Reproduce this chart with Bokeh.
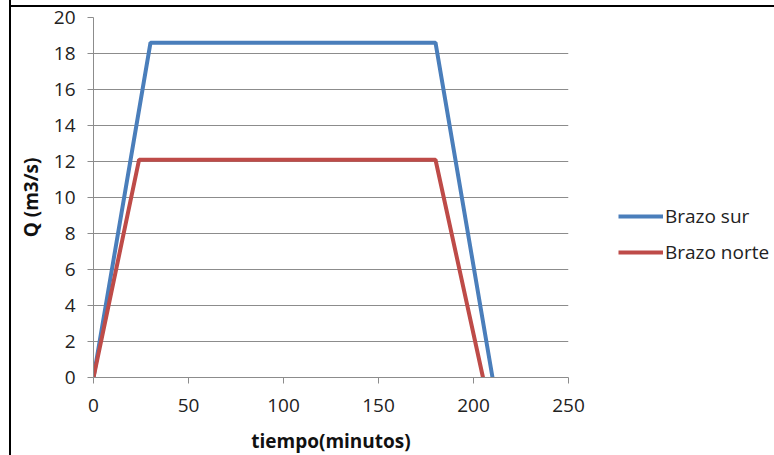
from bokeh.plotting import figure
from bokeh.models import Range1d, Legend, LegendItem, FixedTicker
from bokeh.embed import file_html
from bokeh.resources import INLINE

# data
sur_t = [0, 30, 180, 210]
sur_q = [0, 18.6, 18.6, 0]
norte_t = [0, 24, 180, 205]
norte_q = [0, 12.1, 12.1, 0]
x_ticks = [0, 50, 100, 150, 200, 250]
y_ticks = [0, 2, 4, 6, 8, 10, 12, 14, 16, 18, 20]

FONT = "Open Sans"

p = figure(frame_width=475, frame_height=360, output_backend="svg", toolbar_location=None,
           x_range=Range1d(0, 250), y_range=Range1d(0, 20),
           min_border_left=82, min_border_right=203, min_border_top=17, min_border_bottom=76)
p.margin = (0, 0, 0, 9)
p.styles = {
    "border-left": "2px solid black",
    "background-image": "linear-gradient(black, black)",
    "background-size": "100% 2px",
    "background-position": "0 5px",
    "background-repeat": "no-repeat",
}
p.outline_line_color = None
p.background_fill_color = "white"
p.border_fill_color = None

r1 = p.line(sur_t, sur_q, line_color="#4a7ebb", line_width=4)
r2 = p.line(norte_t, norte_q, line_color="#be4b48", line_width=4)

p.xgrid.grid_line_color = None
p.ygrid.grid_line_color = "#8c8c8c"
p.ygrid.grid_line_width = 1

p.xaxis.ticker = FixedTicker(ticks=x_ticks)
p.yaxis.ticker = FixedTicker(ticks=y_ticks)
for ax in (p.xaxis, p.yaxis):
    ax.axis_line_color = "#8c8c8c"
    ax.major_tick_line_color = "#8c8c8c"
    ax.minor_tick_line_color = None
    ax.major_tick_in = 0
    ax.major_tick_out = 6
    ax.major_label_text_font = FONT
    ax.major_label_text_font_size = "19px"
    ax.major_label_text_color = "#222222"
    ax.axis_label_text_font = FONT
    ax.axis_label_text_font_size = "19px"
    ax.axis_label_text_font_style = "bold"
    ax.axis_label_text_color = "#111111"

p.xaxis.axis_label = "tiempo(minutos)"
p.yaxis.axis_label = "Q (m3/s)"
p.xaxis.major_label_standoff = 15
p.xaxis.axis_label_standoff = 13
p.yaxis.major_label_standoff = 12
p.yaxis.axis_label_standoff = 7

legend = Legend(items=[LegendItem(label="Brazo sur", renderers=[r1]),
                       LegendItem(label="Brazo norte", renderers=[r2])],
                location=(50, 112), orientation="vertical")
legend.border_line_color = None
legend.background_fill_alpha = 0
legend.glyph_width = 45
legend.glyph_height = 26
legend.label_height = 26
legend.label_standoff = 2
legend.spacing = 10
legend.label_text_font = FONT
legend.label_text_font_size = "19px"
legend.label_text_color = "#222222"
legend.padding = 4
legend.margin = 0
p.add_layout(legend, "right")

open("out.html", "w").write(file_html(p, INLINE))
